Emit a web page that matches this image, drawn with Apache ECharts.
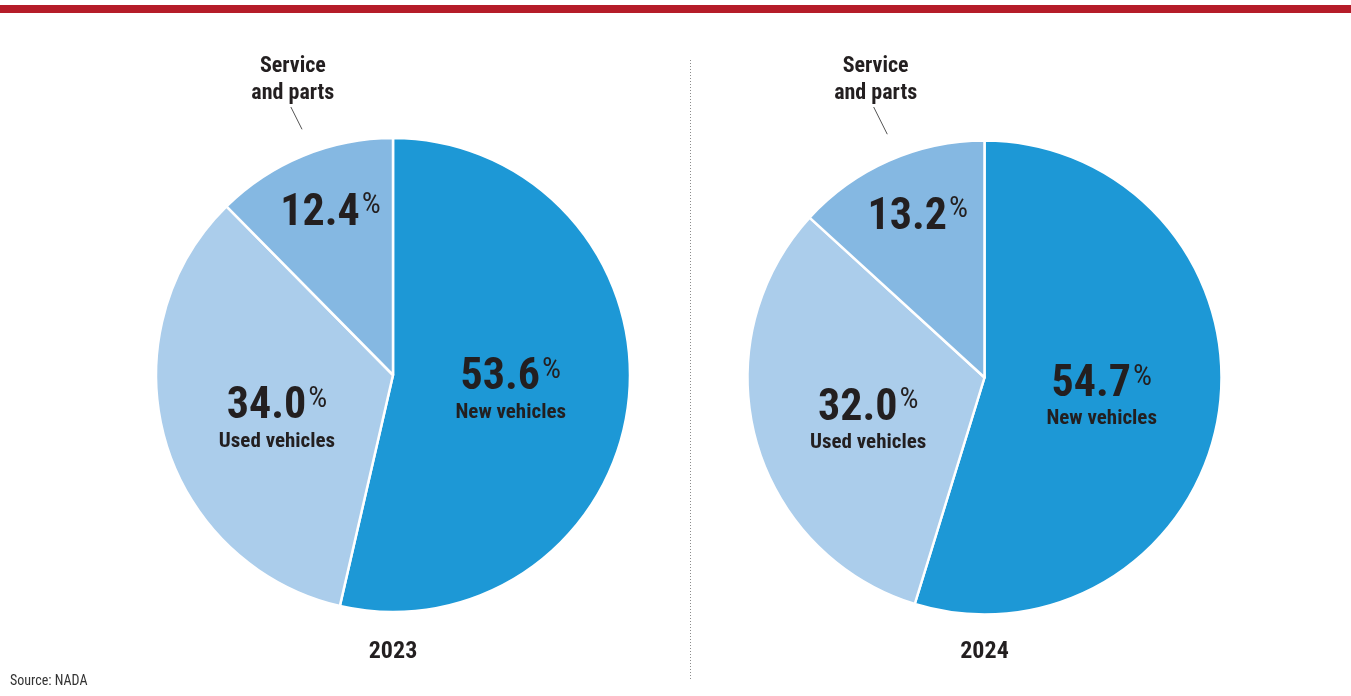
<!DOCTYPE html>
<html>
<head>
<meta charset="utf-8">
<script src="https://cdn.jsdelivr.net/npm/echarts@6/dist/echarts.min.js"></script>
<style>
  html, body { margin: 0; padding: 0; background: #ffffff; }
  #chart { width: 1351px; height: 696px; }
</style>
</head>
<body>
<div id="chart"></div>
<script>
// Dealership revenue mix, share of total (%)
const years = ['2023', '2024'];
const segments = ['New vehicles', 'Used vehicles', 'Service and parts'];
const share2023 = [53.6, 34.0, 12.4];
const share2024 = [54.7, 32.0, 13.2];
const outsideLabel = 'Service\nand parts';
const sourceNote = 'Source: NADA';

const FONT = '"Roboto Condensed", "DejaVu Sans Condensed", sans-serif';
const INK = '#231f20';
const sliceColors = ['#1d98d6', '#abcdeb', '#85b8e2'];

// Pie geometry (pixels)
const pies = [
  { cx: 393, cy: 375, r: 237, values: share2023, year: years[0] },
  { cx: 984.5, cy: 377.5, r: 237, values: share2024, year: years[1] }
];
// Where each inside label sits: fraction of radius along the slice's mid angle, plus a nudge
const labelPlace = [ { k: 0.5, dx: 0, dy: 1 }, { k: 0.5, dx: -2, dy: 11 }, { k: 0.75, dx: 5, dy: 3 } ];

function midAngle(values, i) {
  const total = values.reduce((a, b) => a + b, 0);
  let before = 0;
  for (let j = 0; j < i; j++) before += values[j];
  return (before + values[i] / 2) / total * 2 * Math.PI; // clockwise from 12 o'clock
}
function polar(p, a, d) {
  return [p.cx + d * Math.sin(a), p.cy - d * Math.cos(a)];
}

const series = pies.map((p) => ({
  type: 'pie',
  center: [p.cx, p.cy],
  radius: p.r,
  startAngle: 90,
  clockwise: true,
  silent: true,
  animation: false,
  itemStyle: { borderColor: '#ffffff', borderWidth: 2.5 },
  labelLine: { show: false },
  label: {
    show: true,
    position: 'inside',
    fontFamily: FONT,
    color: INK,
    formatter: (d) => {
      const num = '{num|' + d.value.toFixed(1) + '}{pct|%}';
      return d.dataIndex === 2 ? num : num + '\n{name|' + d.name + '}';
    },
    rich: {
      num: { fontFamily: FONT, fontSize: 44, fontWeight: 'bold', color: INK, lineHeight: 46 },
      pct: { fontFamily: FONT, fontSize: 30, color: INK, lineHeight: 46, verticalAlign: 'top', padding: [0, 0, 10, 2] },
      name: { fontFamily: FONT, fontSize: 21, fontWeight: 'bold', color: INK, lineHeight: 22 }
    }
  },
  labelLayout: (params) => {
    const i = params.dataIndex;
    const a = midAngle(p.values, i);
    const pt = polar(p, a, p.r * labelPlace[i].k);
    return { x: pt[0] + labelPlace[i].dx, y: pt[1] + labelPlace[i].dy, align: 'center', verticalAlign: 'middle' };
  },
  data: segments.map((name, i) => ({ name, value: p.values[i], itemStyle: { color: sliceColors[i] } }))
}));

// Decorations: top rule, divider, years, source, outside labels with leader lines
const graphic = [
  { type: 'rect', shape: { x: 0, y: 5, width: 1351, height: 8 }, style: { fill: '#b51c29' }, silent: true },
  { type: 'line', shape: { x1: 690.5, y1: 60, x2: 690.5, y2: 680 },
    style: { stroke: '#8c8c8c', lineWidth: 1, lineDash: [1, 2] }, silent: true },
  { type: 'text', x: 10, y: 681, silent: true,
    style: { text: sourceNote, font: '14px ' + FONT, fill: '#333333', align: 'left', verticalAlign: 'middle' } }
];
const leaderTilt = 2 * Math.PI / 180; // leader starts just clockwise of the slice's mid angle
const leaderTop = 107;                 // leader lines end at this height
const leaderLean = 0.5;                // horizontal run per unit of rise
pies.forEach((p) => {
  graphic.push({ type: 'text', x: p.cx, y: 652, silent: true,
    style: { text: p.year, font: 'bold 24px ' + FONT, fill: INK, align: 'center', verticalAlign: 'middle' } });
  const a = midAngle(p.values, 2) + leaderTilt;
  const s = polar(p, a, p.r + 25);
  const e = [s[0] - leaderLean * (s[1] - leaderTop), leaderTop];
  graphic.push({ type: 'line', silent: true, shape: { x1: s[0], y1: s[1], x2: e[0], y2: e[1] },
    style: { stroke: '#555555', lineWidth: 1 } });
  graphic.push({ type: 'text', x: e[0] + 2, y: e[1], silent: true,
    style: { text: outsideLabel, font: 'bold 22px ' + FONT, fill: INK, align: 'center',
             verticalAlign: 'bottom', lineHeight: 27 } });
});

const chart = echarts.init(document.getElementById('chart'), null, { renderer: 'canvas' });
chart.setOption({
  backgroundColor: '#ffffff',
  animation: false,
  series,
  graphic
});
</script>
</body>
</html>
